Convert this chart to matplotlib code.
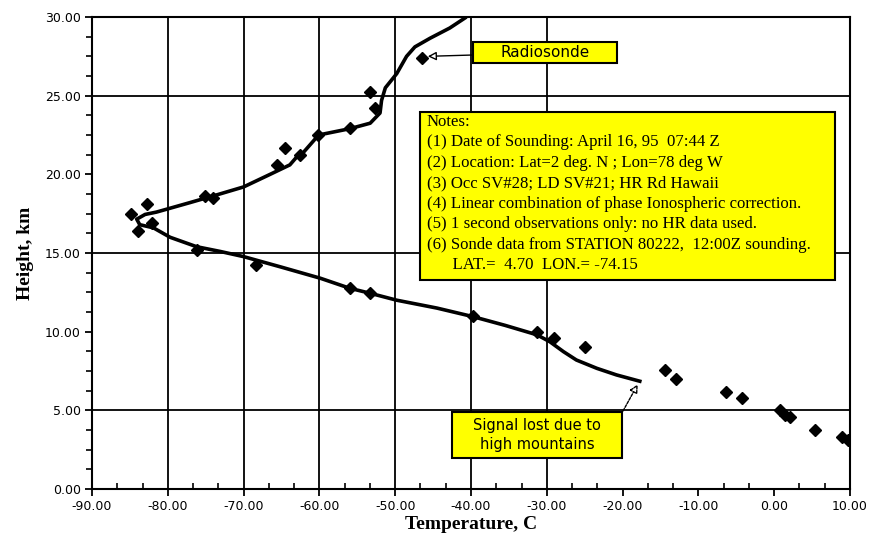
import matplotlib
matplotlib.use("Agg")
import matplotlib.pyplot as plt
from matplotlib.ticker import MultipleLocator, AutoMinorLocator, FormatStrFormatter
from matplotlib.patches import Rectangle

# ---- data ----
line_T = [-17.5, -20.8, -23.4, -26.1, -27.8, -29.6, -31.3, -35.5, -39.7, -44.5,
          -49.8, -53.3, -56.0, -59.9, -65.0, -70.0, -73.1, -76.2, -79.7, -81.9,
          -83.7, -84.1, -83.0, -81.5, -77.1, -73.5, -70.0, -66.5, -63.9, -63.0,
          -62.1, -60.1, -56.0, -53.3, -52.0, -51.8, -51.3, -49.8, -48.5, -47.4,
          -45.4, -42.8, -40.6]
line_H = [6.82, 7.25, 7.67, 8.2, 8.73, 9.36, 9.8, 10.4, 10.95, 11.5,
          12.0, 12.44, 12.76, 13.4, 14.1, 14.77, 15.1, 15.4, 16.0, 16.6,
          16.8, 17.15, 17.45, 17.6, 18.2, 18.7, 19.2, 20.0, 20.6, 21.1,
          21.4, 22.5, 22.9, 23.25, 23.9, 24.7, 25.5, 26.4, 27.5, 28.1,
          28.65, 29.3, 30.0]

pts_T = [-84.8, -82.7, -82.1, -83.9, -76.2, -68.3, -75.1, -74.0, -65.6, -64.5,
         -62.6, -60.2, -56.0, -53.3, -52.7, -46.5, -56.0, -53.3, -39.7, -31.3,
         -29.1, -25.0, -14.4, -12.9, -6.3, -4.3, 0.8, 1.4, 2.1, 5.4, 8.9, 9.8]
pts_H = [17.5, 18.1, 16.9, 16.4, 15.2, 14.24, 18.6, 18.5, 20.6, 21.65,
         21.2, 22.5, 22.95, 25.25, 24.2, 27.4, 12.76, 12.44, 11.0, 10.0,
         9.58, 9.0, 7.57, 7.0, 6.19, 5.77, 5.02, 4.7, 4.6, 3.75, 3.29, 3.1]

x_grid = [-80, -70, -60, -50, -40, -30]
y_grid = [5, 15, 25]

notes_lines = [
    "Notes:",
    "(1) Date of Sounding: April 16, 95  07:44 Z",
    "(2) Location: Lat=2 deg. N ; Lon=78 deg W",
    "(3) Occ SV#28; LD SV#21; HR Rd Hawaii",
    "(4) Linear combination of phase Ionospheric correction.",
    "(5) 1 second observations only: no HR data used.",
    "(6) Sonde data from STATION 80222,  12:00Z sounding.",
    "      LAT.=  4.70  LON.= -74.15",
]
label_radiosonde = "Radiosonde"
label_signal = "Signal lost due to\nhigh mountains"

# ---- figure ----
W, H = 874, 545
fig = plt.figure(figsize=(W / 100, H / 100), dpi=100)
L, R, B, T = 92, 850, 489, 17
ax = fig.add_axes([L / W, 1 - B / H, (R - L) / W, (B - T) / H])

def fx(px):
    return (px - L) / (R - L)

def fy(py):
    return (B - py) / (B - T)

ax.set_xlim(-90, 10)
ax.set_ylim(0, 30)

for xv in x_grid:
    ax.axvline(xv, color="black", lw=1.3, zorder=1)
for yv in y_grid:
    ax.axhline(yv, color="black", lw=1.3, zorder=1)

ax.plot(line_T, line_H, color="black", lw=2.6, solid_joinstyle="round",
        solid_capstyle="butt", zorder=3)
ax.plot(pts_T, pts_H, linestyle="none", marker="D", ms=6, color="black", zorder=4)

for s in ax.spines.values():
    s.set_linewidth(1.5)

ax.xaxis.set_major_locator(MultipleLocator(10))
ax.yaxis.set_major_locator(MultipleLocator(5))
ax.xaxis.set_minor_locator(AutoMinorLocator(3))
ax.yaxis.set_minor_locator(AutoMinorLocator(4))
ax.xaxis.set_major_formatter(FormatStrFormatter("%.2f"))
ax.yaxis.set_major_formatter(FormatStrFormatter("%.2f"))
ax.tick_params(axis="both", which="major", direction="out", length=5, width=1.3,
               labelsize=9, pad=3)
ax.tick_params(axis="x", which="minor", direction="in", length=4, width=1.2)
ax.tick_params(axis="y", which="minor", direction="out", length=4, width=1.2)
for lab in ax.get_xticklabels() + ax.get_yticklabels():
    lab.set_fontfamily("DejaVu Sans")

ax.set_xlabel("Temperature, C", fontfamily="Liberation Serif", fontweight="bold",
              fontsize=14, labelpad=2)
ax.set_ylabel("Height, km", fontfamily="Liberation Serif", fontweight="bold",
              fontsize=14, labelpad=8)

# Notes box
x0, x1, y0, y1 = 420, 835, 112, 280
ax.add_patch(Rectangle((fx(x0), fy(y1)), fx(x1) - fx(x0), fy(y0) - fy(y1),
                       transform=ax.transAxes, facecolor="#ffff00",
                       edgecolor="black", lw=1.5, zorder=5))
line_y0, dy = 121.7, 20.5
for i, txt in enumerate(notes_lines):
    ax.text(fx(427), fy(line_y0 + i * dy), txt, transform=ax.transAxes,
            ha="left", va="center", fontsize=12.1, fontfamily="Liberation Serif",
            zorder=6)

# Radiosonde box
x0, x1, y0, y1 = 473, 617, 42, 63
ax.add_patch(Rectangle((fx(x0), fy(y1)), fx(x1) - fx(x0), fy(y0) - fy(y1),
                       transform=ax.transAxes, facecolor="#ffff00",
                       edgecolor="black", lw=1.5, zorder=5))
ax.text(fx((x0 + x1) / 2), fy((y0 + y1) / 2), label_radiosonde, transform=ax.transAxes,
        ha="center", va="center", fontsize=11, fontfamily="DejaVu Sans", zorder=6)
ax.annotate("", xy=(-45.7, 27.5), xycoords="data",
            xytext=(fx(473), fy(55)), textcoords="axes fraction",
            arrowprops=dict(arrowstyle="-|>,head_length=0.5,head_width=0.25",
                            color="black", fc="white", lw=1.0, shrinkA=0, shrinkB=0),
            zorder=6)

# Signal lost box
x0, x1, y0, y1 = 452, 622, 412, 458
ax.add_patch(Rectangle((fx(x0), fy(y1)), fx(x1) - fx(x0), fy(y0) - fy(y1),
                       transform=ax.transAxes, facecolor="#ffff00",
                       edgecolor="black", lw=1.5, zorder=5))
ax.text(fx((x0 + x1) / 2), fy((y0 + y1) / 2), label_signal, transform=ax.transAxes,
        ha="center", va="center", fontsize=10.5, fontfamily="DejaVu Sans",
        linespacing=1.35, zorder=6)
ax.annotate("", xy=(-18.0, 6.65), xycoords="data",
            xytext=(fx(623), fy(411)), textcoords="axes fraction",
            arrowprops=dict(arrowstyle="-|>,head_length=0.5,head_width=0.25",
                            color="black", fc="white", lw=1.0, shrinkA=0, shrinkB=0,
                            linestyle=(0, (2, 1))),
            zorder=6)

fig.savefig("out.png", dpi=100, facecolor="white")
